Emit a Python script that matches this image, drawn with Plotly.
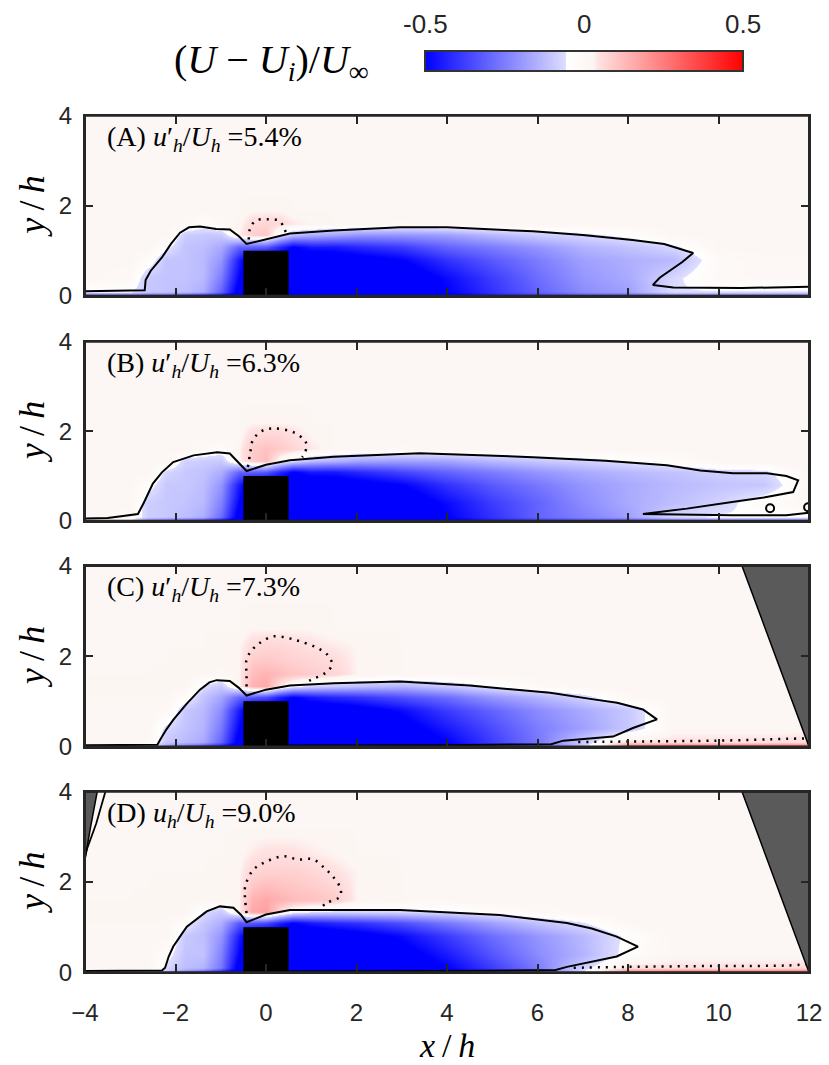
import plotly.graph_objects as go

# ---------------- data ----------------
X_GRID = [-4, -3, -2.6, -2.2, -1.8, -1.4, -1.0, -0.6, -0.3, 0, 0.3, 0.6, 1.0, 1.5, 2, 3, 4, 5, 6, 7, 8, 9, 10, 11, 12]
Y_GRID = [0, 0.1, 0.4, 0.8, 1.1, 1.35, 1.6, 1.9, 2.2, 2.6, 3.2, 4]

Z_A = [
    [-.35, -.35, -.35, -.35, -.40, -.45, -.50, -.60, -.60, -.60, -.60, -.60, -.60, -.60, -.60, -.60, -.55, -.45, -.40, -.35, -.35, -.30, -.30, -.30, -.30],
    [-.05, -.05, -.10, -.11, -.12, -.15, -.30, -.55, -.60, -.60, -.60, -.60, -.60, -.60, -.60, -.60, -.50, -.40, -.30, -.22, -.18, -.06, -.06, -.06, -.06],
    [.02, .00, -.10, -.11, -.11, -.13, -.25, -.50, -.60, -.60, -.60, -.60, -.60, -.60, -.60, -.58, -.48, -.38, -.28, -.20, -.16, -.07, .00, .00, .00],
    [.02, .02, -.02, -.11, -.11, -.13, -.20, -.45, -.60, -.60, -.60, -.60, -.60, -.58, -.55, -.50, -.40, -.32, -.25, -.18, -.15, -.13, -.01, .01, .01],
    [.02, .02, .02, -.04, -.11, -.12, -.16, -.30, -.30, -.32, -.42, -.50, -.45, -.45, -.42, -.38, -.30, -.25, -.20, -.14, -.11, -.07, .02, .02, .02],
    [.02, .02, .02, .02, -.09, -.10, -.10, .03, .08, .10, -.04, -.12, -.15, -.17, -.20, -.20, -.18, -.13, -.09, -.07, -.04, .02, .02, .02, .02],
    [.02, .02, .02, .02, .01, -.03, .01, .025, .06, .07, .06, .04, .03, .02, .02, .01, .02, .02, .02, .02, .02, .02, .02, .02, .02],
    [.02, .02, .02, .02, .02, .02, .02, .02, .03, .03, .03, .02, .02, .02, .02, .02, .02, .02, .02, .02, .02, .02, .02, .02, .02],
    [.02, .02, .02, .02, .02, .02, .02, .02, .02, .02, .02, .02, .02, .02, .02, .02, .02, .02, .02, .02, .02, .02, .02, .02, .02],
    [.02, .02, .02, .02, .02, .02, .02, .02, .02, .02, .02, .02, .02, .02, .02, .02, .02, .02, .02, .02, .02, .02, .02, .02, .02],
    [.02, .02, .02, .02, .02, .02, .02, .02, .02, .02, .02, .02, .02, .02, .02, .02, .02, .02, .02, .02, .02, .02, .02, .02, .02],
    [.02, .02, .02, .02, .02, .02, .02, .02, .02, .02, .02, .02, .02, .02, .02, .02, .02, .02, .02, .02, .02, .02, .02, .02, .02],
]

Z_B = [
    [-.08, -.08, -.25, -.30, -.35, -.40, -.50, -.60, -.60, -.60, -.60, -.60, -.60, -.60, -.60, -.60, -.55, -.45, -.40, -.35, -.35, -.30, -.25, -.25, -.25],
    [.02, .00, -.09, -.10, -.12, -.15, -.28, -.55, -.60, -.60, -.60, -.60, -.60, -.60, -.60, -.60, -.50, -.40, -.30, -.24, -.18, -.07, -.05, -.05, -.05],
    [.02, .02, -.09, -.10, -.11, -.13, -.24, -.50, -.60, -.60, -.60, -.60, -.60, -.60, -.60, -.58, -.48, -.38, -.30, -.22, -.16, -.12, -.08, -.02, .01],
    [.02, .02, -.03, -.10, -.10, -.12, -.20, -.45, -.60, -.60, -.60, -.60, -.60, -.58, -.55, -.50, -.40, -.32, -.26, -.20, -.16, -.13, -.11, -.10, .01],
    [.02, .02, .02, -.07, -.10, -.11, -.15, -.30, -.30, -.32, -.42, -.50, -.45, -.45, -.42, -.36, -.30, -.25, -.20, -.16, -.13, -.11, -.08, -.07, .02],
    [.02, .02, .02, .02, -.08, -.09, -.10, .03, .09, .12, .00, -.06, -.12, -.14, -.17, -.18, -.17, -.13, -.10, -.08, -.05, -.02, .02, .02, .02],
    [.02, .02, .02, .02, .02, .00, -.02, .03, .09, .11, .09, .07, .04, .02, .02, .01, .02, .02, .02, .02, .02, .02, .02, .02, .02],
    [.02, .02, .02, .02, .02, .02, .02, .02, .06, .07, .07, .05, .03, .02, .02, .02, .02, .02, .02, .02, .02, .02, .02, .02, .02],
    [.02, .02, .02, .02, .02, .02, .02, .02, .03, .03, .03, .03, .02, .02, .02, .02, .02, .02, .02, .02, .02, .02, .02, .02, .02],
    [.02, .02, .02, .02, .02, .02, .02, .02, .02, .02, .02, .02, .02, .02, .02, .02, .02, .02, .02, .02, .02, .02, .02, .02, .02],
    [.02, .02, .02, .02, .02, .02, .02, .02, .02, .02, .02, .02, .02, .02, .02, .02, .02, .02, .02, .02, .02, .02, .02, .02, .02],
    [.02, .02, .02, .02, .02, .02, .02, .02, .02, .02, .02, .02, .02, .02, .02, .02, .02, .02, .02, .02, .02, .02, .02, .02, .02],
]

Z_C = [
    [-.04, -.04, -.05, -.20, -.30, -.40, -.50, -.60, -.60, -.60, -.60, -.60, -.60, -.60, -.60, -.60, -.55, -.45, -.35, -.10, .30, .35, .35, .35, .35],
    [.02, .02, .01, -.10, -.13, -.16, -.30, -.55, -.60, -.60, -.60, -.60, -.60, -.60, -.60, -.58, -.50, -.38, -.26, -.09, .06, .05, .05, .05, .06],
    [.02, .02, .02, -.07, -.11, -.14, -.26, -.50, -.60, -.60, -.60, -.60, -.60, -.60, -.60, -.55, -.45, -.35, -.25, -.18, -.10, .02, .02, .02, .02],
    [.02, .02, .02, .01, -.10, -.13, -.22, -.45, -.60, -.60, -.60, -.60, -.60, -.58, -.55, -.48, -.38, -.30, -.22, -.16, -.10, .02, .02, .02, .02],
    [.02, .02, .02, .02, -.02, -.11, -.17, -.30, -.32, -.35, -.44, -.50, -.45, -.42, -.40, -.34, -.28, -.20, -.14, -.08, .01, .02, .02, .02, .02],
    [.025, .025, .025, .025, .025, -.06, -.10, .03, .14, .16, .04, -.03, -.08, -.10, -.12, -.14, -.10, -.05, .00, .02, .02, .02, .02, .02, .02],
    [.02, .02, .02, .025, .025, .025, .01, .03, .12, .14, .12, .10, .09, .07, .03, .02, .02, .02, .02, .02, .02, .02, .02, .02, .02],
    [.02, .02, .02, .02, .025, .025, .025, .03, .09, .10, .09, .08, .07, .06, .03, .02, .02, .02, .02, .02, .02, .02, .02, .02, .02],
    [.02, .02, .02, .02, .02, .02, .025, .03, .06, .07, .07, .06, .05, .04, .03, .02, .02, .02, .02, .02, .02, .02, .02, .02, .02],
    [.02, .02, .02, .02, .02, .02, .02, .02, .03, .03, .03, .03, .03, .02, .02, .02, .02, .02, .02, .02, .02, .02, .02, .02, .02],
    [.02, .02, .02, .02, .02, .02, .02, .02, .02, .02, .02, .02, .02, .02, .02, .02, .02, .02, .02, .02, .02, .02, .02, .02, .02],
    [.02, .02, .02, .02, .02, .02, .02, .02, .02, .02, .02, .02, .02, .02, .02, .02, .02, .02, .02, .02, .02, .02, .02, .02, .02],
]

Z_D = [
    [-.04, -.04, -.04, -.10, -.25, -.35, -.50, -.60, -.60, -.60, -.60, -.60, -.60, -.60, -.60, -.60, -.55, -.45, -.35, -.05, .30, .35, .35, .35, .35],
    [.02, .02, .02, -.07, -.12, -.14, -.26, -.55, -.60, -.60, -.60, -.60, -.60, -.60, -.60, -.58, -.50, -.38, -.25, -.08, .06, .05, .05, .05, .06],
    [.02, .02, .02, -.03, -.11, -.11, -.24, -.50, -.60, -.60, -.60, -.60, -.60, -.60, -.60, -.55, -.45, -.33, -.22, -.14, -.03, .02, .02, .02, .02],
    [.02, .02, .02, .02, -.10, -.12, -.20, -.45, -.60, -.60, -.60, -.60, -.60, -.58, -.55, -.48, -.38, -.28, -.20, -.13, -.04, .02, .02, .02, .02],
    [.02, .02, .02, .02, -.03, -.10, -.15, -.32, -.32, -.35, -.44, -.50, -.45, -.42, -.40, -.34, -.26, -.18, -.11, -.06, .02, .02, .02, .02, .02],
    [.025, .025, .025, .025, .025, -.06, -.10, .03, .16, .18, .06, -.02, -.06, -.07, -.07, -.07, -.06, -.03, .00, .02, .02, .02, .02, .02, .02],
    [.02, .02, .025, .025, .025, .025, .02, .03, .14, .16, .14, .12, .11, .09, .03, .02, .02, .02, .02, .02, .02, .02, .02, .02, .02],
    [.02, .02, .02, .025, .025, .025, .025, .03, .10, .12, .11, .10, .09, .07, .03, .02, .02, .02, .02, .02, .02, .02, .02, .02, .02],
    [.02, .02, .02, .02, .02, .02, .025, .03, .07, .08, .08, .08, .07, .05, .03, .02, .02, .02, .02, .02, .02, .02, .02, .02, .02],
    [.02, .02, .02, .02, .02, .02, .02, .025, .04, .05, .05, .05, .04, .03, .02, .02, .02, .02, .02, .02, .02, .02, .02, .02, .02],
    [.02, .02, .02, .02, .02, .02, .02, .02, .02, .02, .02, .02, .02, .02, .02, .02, .02, .02, .02, .02, .02, .02, .02, .02, .02],
    [.02, .02, .02, .02, .02, .02, .02, .02, .02, .02, .02, .02, .02, .02, .02, .02, .02, .02, .02, .02, .02, .02, .02, .02, .02],
]

# solid contour lines (negative level)
SOLID_A_X = [-4, -3.0, -2.68, -2.66, -2.55, -2.3, -2.1, -1.9, -1.7, -1.46, -1.1, -0.8, -0.6, -0.43, 0.0, 0.53, 1.5, 2.96, 4.0, 5.9, 7.0, 8.1, 8.8, 9.44, 9.2, 8.9, 8.7, 8.55, 9.0, 10.5, 12]
SOLID_A_Y = [0.1, 0.11, 0.12, 0.35, 0.55, 0.85, 1.15, 1.4, 1.52, 1.54, 1.48, 1.47, 1.32, 1.15, 1.26, 1.38, 1.45, 1.52, 1.52, 1.43, 1.35, 1.24, 1.15, 0.95, 0.75, 0.55, 0.4, 0.24, 0.18, 0.17, 0.2]
SOLID_B_X = [-4, -3.5, -3.2, -2.95, -2.83, -2.7, -2.5, -2.3, -2.05, -1.6, -1.08, -0.8, -0.6, -0.43, 0.0, 0.53, 1.5, 3.4, 5.9, 7.5, 8.86, 9.6, 10.32, 11.07, 11.5, 11.76, 11.65, 11.0, 10.3, 9.3, 8.33, 9.0, 10.3, 11.5, 12]
SOLID_B_Y = [0.05, 0.06, 0.1, 0.13, 0.15, 0.4, 0.83, 1.08, 1.31, 1.46, 1.53, 1.5, 1.3, 1.11, 1.25, 1.35, 1.43, 1.51, 1.42, 1.34, 1.24, 1.12, 1.06, 1.06, 1.0, 0.9, 0.64, 0.52, 0.42, 0.27, 0.15, 0.14, 0.12, 0.12, 0.18]
SOLID_C_X = [-4, -3.0, -2.4, -2.34, -2.2, -2.05, -1.75, -1.46, -1.25, -1.09, -0.8, -0.6, -0.43, 0.0, 0.53, 1.5, 2.96, 4.5, 6.28, 7.2, 7.76, 8.33, 8.64, 8.11, 7.67, 6.57, 6.3, 4.0, 0.5]
SOLID_C_Y = [0.03, 0.03, 0.04, 0.15, 0.38, 0.59, 0.95, 1.26, 1.42, 1.47, 1.45, 1.3, 1.13, 1.26, 1.35, 1.4, 1.44, 1.35, 1.19, 1.05, 0.97, 0.82, 0.6, 0.41, 0.22, 0.13, 0.05, 0.03, 0.02]
SOLID_D_X = [-4, -2.3, -2.23, -2.15, -2.05, -1.75, -1.31, -1.02, -0.72, -0.55, -0.43, 0.0, 0.53, 2.96, 5.17, 6.65, 7.2, 7.75, 8.22, 7.75, 6.65, 6.4, 4.0, 0.5]
SOLID_D_Y = [0.03, 0.04, 0.1, 0.35, 0.57, 1.01, 1.35, 1.46, 1.43, 1.27, 1.11, 1.28, 1.38, 1.38, 1.27, 1.09, 0.97, 0.79, 0.57, 0.35, 0.12, 0.05, 0.03, 0.02]
# small closed contour islands in panel B
ISLAND_B_X = [11.14, 11.98]
ISLAND_B_Y = [0.28, 0.3]

# dotted contour lines (positive level)
DOT_A_X = [-0.38, -0.35, -0.22, 0.05, 0.3, 0.4, 0.45]
DOT_A_Y = [1.25, 1.5, 1.67, 1.7, 1.66, 1.5, 1.38]
DOT_B_X = [-0.4, -0.35, -0.29, -0.1, 0.16, 0.6, 0.85, 0.9, 0.85, 0.8]
DOT_B_Y = [1.2, 1.5, 1.8, 2.0, 2.06, 1.98, 1.8, 1.68, 1.5, 1.42]
DOT_C_X = [-0.43, -0.43, -0.43, -0.3, -0.13, 0.16, 0.5, 0.75, 1.1, 1.35, 1.46, 1.35, 1.19, 1.0, 0.9]
DOT_C_Y = [1.33, 1.6, 1.93, 2.15, 2.3, 2.44, 2.4, 2.33, 2.2, 2.04, 1.82, 1.66, 1.56, 1.48, 1.42]
DOT_D_X = [-0.43, -0.46, -0.46, -0.28, 0.0, 0.38, 0.7, 1.04, 1.3, 1.48, 1.64, 1.64, 1.35, 1.2]
DOT_D_Y = [1.31, 1.6, 1.9, 2.27, 2.45, 2.57, 2.5, 2.5, 2.3, 2.12, 1.87, 1.68, 1.54, 1.42]
FLOOR_DOT_C_X = [6.9, 8, 10, 11.5, 12]
FLOOR_DOT_C_Y = [0.1, 0.11, 0.13, 0.17, 0.18]
FLOOR_DOT_D_X = [6.8, 8, 10, 11.5, 12]
FLOOR_DOT_D_Y = [0.1, 0.12, 0.14, 0.15, 0.18]

# obstacle and masked regions
BLOCK_X = [-0.5, 0.5, 0.5, -0.5, -0.5]
BLOCK_Y = [0, 0, 1, 1, 0]
MASK_R_X = [10.52, 12, 12, 10.52]
MASK_R_Y = [4, 4, 0, 4]
MASK_L_X = [-4, -3.73, -3.88, -4, -4]
MASK_L_Y = [4, 4, 3.2, 2.5, 4]
MASK_L_EDGE_X = [-3.55, -3.75, -3.95, -4]
MASK_L_EDGE_Y = [4, 3.3, 2.75, 2.55]

PANEL_LABELS = [
    "(A) <i>u</i>′<sub><i>h</i></sub>/<i>U<sub>h</sub></i> =5.4%",
    "(B) <i>u</i>′<sub><i>h</i></sub>/<i>U<sub>h</sub></i> =6.3%",
    "(C) <i>u</i>′<sub><i>h</i></sub>/<i>U<sub>h</sub></i> =7.3%",
    "(D) <i>u<sub>h</sub></i>/<i>U<sub>h</sub></i> =9.0%",
]
X_TICKS = [-4, -2, 0, 2, 4, 6, 8, 10, 12]
Y_TICKS = [0, 2, 4]
CB_TICKS = [-0.5, 0, 0.5]
CB_TICKTEXT = ["-0.5", "0", "0.5"]

# ---------------- styling ----------------
CS = [
    [0.0, "rgb(0,0,255)"],
    [0.444, "rgb(222,222,255)"],
    [0.445, "rgb(255,255,255)"],
    [0.53, "rgb(252,245,242)"],
    [0.545, "rgb(255,226,226)"],
    [1.0, "rgb(255,0,0)"],
]
H = 1065.0
W = 829.0
X_DOM = [85 / W, 809 / W]
PANEL_PX = [(115.7, 295.7), (341.7, 520.7), (566.0, 746.5), (791.7, 972.3)]
AX_COL = "#262626"
TICK_FONT = dict(family="Liberation Sans, Arial, sans-serif", size=24, color=AX_COL)
CB_FONT = dict(family="Liberation Sans, Arial, sans-serif", size=26, color=AX_COL)
MATH_FONT = "Liberation Serif, Times New Roman, serif"
CB_LEFT, CB_RIGHT, CB_MID_Y = 425.0, 743.0, 62.5

fields = [Z_A, Z_B, Z_C, Z_D]
solids = [(SOLID_A_X, SOLID_A_Y), (SOLID_B_X, SOLID_B_Y), (SOLID_C_X, SOLID_C_Y), (SOLID_D_X, SOLID_D_Y)]
dots = [[(DOT_A_X, DOT_A_Y)], [(DOT_B_X, DOT_B_Y)],
        [(DOT_C_X, DOT_C_Y), (FLOOR_DOT_C_X, FLOOR_DOT_C_Y)],
        [(DOT_D_X, DOT_D_Y), (FLOOR_DOT_D_X, FLOOR_DOT_D_Y)]]

fig = go.Figure()
layout = dict(
    width=829, height=1065, margin=dict(l=0, r=0, t=0, b=0, autoexpand=False),
    paper_bgcolor="white", plot_bgcolor="white", showlegend=False,
    annotations=[], shapes=[],
)

for i in range(4):
    sfx = "" if i == 0 else str(i + 1)
    xa, ya = "x" + sfx, "y" + sfx
    top, bot = PANEL_PX[i]
    ydom = [1 - bot / H, 1 - top / H]

    hm = dict(x=X_GRID, y=Y_GRID, z=fields[i], zmin=-0.5, zmax=0.5, colorscale=CS,
              zsmooth="best", xaxis=xa, yaxis=ya, hoverinfo="skip", showscale=(i == 0))
    if i == 0:
        hm["colorbar"] = dict(
            orientation="h", x=(CB_LEFT + CB_RIGHT) / 2 / W, xanchor="center",
            y=1 - CB_MID_Y / H, yanchor="middle",
            len=(CB_RIGHT - CB_LEFT) / W, lenmode="fraction", thickness=20, thicknessmode="pixels",
            xpad=0, ypad=0, outlinewidth=2, outlinecolor="#333333",
            tickvals=[0], ticks="", showticklabels=False,
        )
    fig.add_trace(go.Heatmap(**hm))

    sx, sy = solids[i]
    fig.add_trace(go.Scatter(x=sx, y=sy, mode="lines", line=dict(color="black", width=2),
                             xaxis=xa, yaxis=ya, hoverinfo="skip"))
    if i == 1:
        fig.add_trace(go.Scatter(x=ISLAND_B_X, y=ISLAND_B_Y, mode="markers",
                                 marker=dict(symbol="circle-open", size=8, color="black", line=dict(width=2)),
                                 xaxis=xa, yaxis=ya, hoverinfo="skip"))
    for dx, dy in dots[i]:
        fig.add_trace(go.Scatter(x=dx, y=dy, mode="lines",
                                 line=dict(color="black", width=2.5, dash="2px,6px", shape="spline"),
                                 xaxis=xa, yaxis=ya, hoverinfo="skip"))
    fig.add_trace(go.Scatter(x=BLOCK_X, y=BLOCK_Y, mode="lines", fill="toself", fillcolor="black",
                             line=dict(color="black", width=0), xaxis=xa, yaxis=ya, hoverinfo="skip"))
    if i >= 2:
        fig.add_trace(go.Scatter(x=MASK_R_X, y=MASK_R_Y, mode="lines", fill="toself", fillcolor="#5a5a5a",
                                 line=dict(color="black", width=1.5), xaxis=xa, yaxis=ya, hoverinfo="skip"))
    if i == 3:
        fig.add_trace(go.Scatter(x=MASK_L_X, y=MASK_L_Y, mode="lines", fill="toself", fillcolor="#5a5a5a",
                                 line=dict(color="black", width=1.5), xaxis=xa, yaxis=ya, hoverinfo="skip"))
        fig.add_trace(go.Scatter(x=MASK_L_EDGE_X, y=MASK_L_EDGE_Y, mode="lines",
                                 line=dict(color="black", width=1.8), xaxis=xa, yaxis=ya, hoverinfo="skip"))

    axcommon = dict(showline=True, linecolor=AX_COL, linewidth=2, mirror="ticks", ticks="inside",
                    ticklen=8, tickwidth=2, tickcolor=AX_COL, showgrid=False, zeroline=False,
                    tickfont=TICK_FONT, layer="above traces")
    layout["xaxis" + sfx] = dict(domain=X_DOM, range=[-4, 12], anchor=ya, tickvals=X_TICKS,
                                 showticklabels=(i == 3), ticklabelstandoff=18, **axcommon)
    layout["yaxis" + sfx] = dict(domain=ydom, range=[0, 4], anchor=xa, tickvals=Y_TICKS,
                                 ticklabelstandoff=6, **axcommon)
    # plot frame
    layout["shapes"].append(dict(type="rect", xref=xa + " domain", yref=ya + " domain",
                                 x0=0, x1=1, y0=0, y1=1, line=dict(color=AX_COL, width=2),
                                 fillcolor="rgba(0,0,0,0)", layer="above"))

    layout["annotations"].append(dict(
        text=PANEL_LABELS[i], xref=xa, yref=ya, x=-3.55, y=3.5, xanchor="left", yanchor="middle",
        showarrow=False, font=dict(family=MATH_FONT, size=28, color="black")))
    layout["annotations"].append(dict(
        text="<i>y</i>\u2009/\u2009<i>h</i>", xref="paper", yref="paper", x=32 / W,
        y=1 - (top + bot) / 2 / H, xanchor="center", yanchor="middle", textangle=-90,
        showarrow=False, font=dict(family=MATH_FONT, size=36, color="black")))

# colour-bar tick labels, placed above the bar
for v, t in zip(CB_TICKS, CB_TICKTEXT):
    layout["annotations"].append(dict(
        text=t, xref="paper", yref="paper",
        x=(CB_LEFT + (v + 0.5) * (CB_RIGHT - CB_LEFT)) / W, y=1 - 24 / H,
        xanchor="center", yanchor="middle", showarrow=False, font=CB_FONT))

layout["annotations"].append(dict(
    text="<i>x</i>\u2009/\u2009<i>h</i>", xref="paper", yref="paper", x=447 / W, y=1 - 1045 / H,
    xanchor="center", yanchor="middle", showarrow=False,
    font=dict(family=MATH_FONT, size=34, color="black")))
layout["annotations"].append(dict(
    text="(<i>U</i> − <i>U<sub>i</sub></i>)/<i>U</i><sub>∞</sub>", xref="paper", yref="paper",
    x=271 / W, y=1 - 62 / H, xanchor="center", yanchor="middle", showarrow=False,
    font=dict(family=MATH_FONT, size=40, color="black")))

fig.update_layout(**layout)
fig.write_html("out.html")
